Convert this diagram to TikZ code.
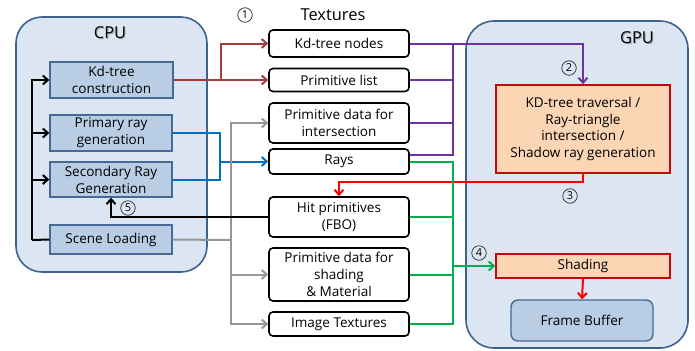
\documentclass[tikz,border=0pt]{standalone}
\usepackage{fontspec}
\setmainfont{Open Sans}
\usetikzlibrary{arrows.meta,calc}

\definecolor{unitfill}{RGB}{220,230,242}
\definecolor{unitdraw}{RGB}{62,98,142}
\definecolor{taskfill}{RGB}{185,205,229}
\definecolor{taskdraw}{RGB}{70,105,150}
\definecolor{gpufill}{RGB}{252,213,181}
\definecolor{gpudraw}{RGB}{195,10,10}
\definecolor{kdred}{RGB}{165,60,58}
\definecolor{raysblue}{RGB}{0,112,192}
\definecolor{scenegray}{RGB}{150,150,150}
\definecolor{travpurple}{RGB}{112,48,160}
\definecolor{shadegreen}{RGB}{0,176,80}
\definecolor{hitred}{RGB}{255,0,0}
\definecolor{titleshadow}{RGB}{160,165,175}

\tikzset{
  every node/.style={font=\fontsize{13.6}{17}\selectfont, align=center, inner sep=0pt},
  unitbox/.style={draw=unitdraw, fill=unitfill, line width=1.6bp, rounded corners=26bp},
  taskbox/.style={draw=taskdraw, fill=taskfill, line width=1.4bp},
  texbox/.style={draw=black, fill=white, line width=1.6bp, rounded corners=4bp, minimum width=140bp},
  gpubox/.style={draw=gpudraw, fill=gpufill, line width=1.6bp},
  fbbox/.style={draw=taskdraw, fill=taskfill, line width=1.4bp, rounded corners=7bp},
  title/.style={font=\fontsize{16.5}{18}\selectfont},
  shadowtitle/.style={title, text=titleshadow},
  numlabel/.style={circle, draw=black!85, line width=0.7bp, minimum size=14.5bp,
                   font=\fontsize{11}{11}\selectfont},
  link/.style={line width=2bp},
  tip/.style={-{Straight Barb[length=5bp,width=9bp]}},
}

\begin{document}
\begin{tikzpicture}[x=1bp,y=-1bp]
\useasboundingbox (0,0) rectangle (695,350);

% CPU side
\node[unitbox, minimum width=191bp, minimum height=255bp] (cpu) at (111.5,144.5) {};
\node[shadowtitle] (cpushadow) at (111,34) {CPU};
\node[title] (cputitle) at (110,33) {CPU};
\node[taskbox, minimum width=123bp, minimum height=36bp] (kdc) at (111.5,80) {Kd-tree\\construction};
\node[taskbox, minimum width=122bp, minimum height=36bp] (prim) at (111,133) {Primary ray\\generation};
\node[taskbox, minimum width=122bp, minimum height=35bp] (sec) at (111,179.5) {Secondary Ray\\Generation};
\node[taskbox, minimum width=122bp, minimum height=29bp] (scene) at (111,239.5) {Scene Loading};

% GPU side
\node[unitbox, rounded corners=28bp, minimum width=222bp, minimum height=327bp] (gpu) at (577,184.5) {};
\node[shadowtitle] (gpushadow) at (638,39) {GPU};
\node[title] (gputitle) at (637,38) {GPU};
\node[gpubox, minimum width=174bp, minimum height=88bp] (kdt) at (583,129) {KD-tree traversal /\\Ray-triangle\\intersection /\\Shadow ray generation};
\node[gpubox, minimum width=174bp, minimum height=24bp] (shade) at (583,266) {Shading};
\node[fbbox, minimum width=142bp, minimum height=41bp] (fb) at (582,320.5) {Frame Buffer};

% Textures column
\node[title] (textitle) at (333,15) {Textures};
\node[texbox, minimum height=27bp] (kdn) at (339,43.5) {Kd-tree nodes};
\node[texbox, minimum height=23bp] (plist) at (339,80) {Primitive list};
\node[texbox, minimum height=40bp] (pdi) at (339,123) {Primitive data for\\intersection};
\node[texbox, minimum height=25bp] (rays) at (339,161.5) {Rays};
\node[texbox, minimum height=40bp] (hit) at (339,217) {Hit primitives\\(FBO)};
\node[texbox, minimum height=53bp] (pds) at (339,274.5) {Primitive data for\\shading\\\& Material};
\node[texbox, minimum height=24bp] (img) at (339,324) {Image Textures};

% step numbers
\node[numlabel] (n1) at (245,15) {1};
\node[numlabel] (n2) at (569,68) {2};
\node[numlabel] (n3) at (570,196) {3};
\node[numlabel] (n4) at (479,253) {4};
\node[numlabel] (n5) at (128,208) {5};

% junction points
\coordinate (jk) at (32,240);
\coordinate (jr) at (221,80);
\coordinate (jb) at (220,161.5);
\coordinate (jg) at (231,240);
\coordinate (jp) at (453,43.5);
\coordinate (jgr) at (453,266);

% scene loading feeds the CPU tasks
\draw[link, black] (scene.west) -- (jk);
\draw[link, black, tip] (jk) |- (kdc.west);
\draw[link, black, tip] (jk) |- (prim.west);
\draw[link, black, tip] (jk) |- (sec.west);

% kd-tree construction -> textures
\draw[link, kdred, tip] (kdc.east) -- (plist.west);
\draw[link, kdred, tip] (jr) |- (kdn.west);

% ray generation -> rays
\draw[link, raysblue] (prim.east) -| (jb) |- (sec.east);
\draw[link, raysblue, tip] (jb) -- (rays.west);

% scene data -> textures
\draw[link, scenegray] (scene.east) -- (jg);
\draw[link, scenegray, tip] (jg) |- (pdi.west);
\draw[link, scenegray, tip] (jg) |- (pds.west);
\draw[link, scenegray, tip] (jg) |- (img.west);

% traversal inputs
\draw[link, travpurple] ([yshift=6.5bp]rays.east) -| (jp);
\draw[link, travpurple] (plist.east) -- (plist.east -| jp);
\draw[link, travpurple] (pdi.east) -- (pdi.east -| jp);
\draw[link, travpurple, tip] (kdn.east) -- (jp) -| (kdt.north);

% traversal output -> hit primitives
\draw[link, hitred, tip] (kdt.south) -- ++(0,8) -| (hit.north);

% shading inputs
\draw[link, shadegreen] (rays.east) -| (jgr);
\draw[link, shadegreen] (img.east) -| (jgr);
\draw[link, shadegreen] (hit.east) -- (hit.east -| jgr);
\draw[link, shadegreen] (pds.east) -- (pds.east -| jgr);
\draw[link, shadegreen, tip] (jgr) -- (shade.west);

% shading -> frame buffer
\draw[link, hitred, tip] (shade.south) -- (fb.north);

% hit primitives -> secondary rays
\draw[link, black, tip] (hit.west) -| (sec.south);
\end{tikzpicture}
\end{document}
